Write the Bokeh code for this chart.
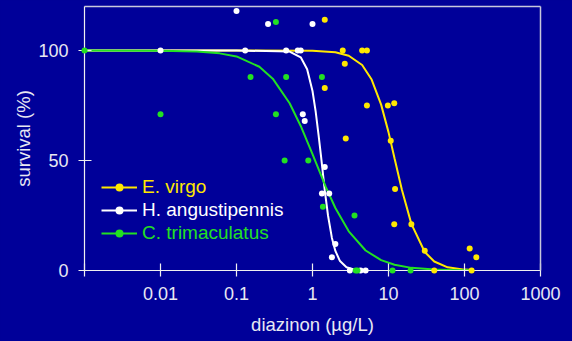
from bokeh.plotting import figure
from bokeh.models import (Range1d, FixedTicker, LinearAxis, Legend, LegendItem)
from bokeh.embed import file_html
from bokeh.resources import INLINE

# ---- observed survival (%) vs diazinon (ug/L) ----
ev_x = [1.45, 2.5, 4.5, 5.2, 2.66, 1.45, 5.2, 9.8, 11.9, 2.74, 10.7, 12.2, 11.9, 20, 30, 40, 124, 117, 143]
ev_y = [114, 100, 100, 100, 94, 83, 75, 75, 76, 60, 59, 37, 21, 21, 9, 0, 0, 10, 6]

ha_x = [0.1, 0.26, 1.0, 0.01, 0.13, 0.45, 0.64, 0.70, 0.745, 0.79, 1.45, 1.33, 1.66, 2.0, 1.8, 3.1, 4.3, 5.0]
ha_y = [118, 112, 112, 100, 100, 100, 100, 100, 71, 68, 47, 35, 35, 12, 6, 0, 0, 0]

ct_x = [0.001, 0.33, 0.153, 0.45, 1.33, 0.01, 0.33, 0.43, 0.88, 1.37, 3.57, 3.7, 3.9, 11.3, 19.5]
ct_y = [100, 113, 88, 88, 88, 71, 71, 50, 50, 29, 25, 0, 0, 0, 0]

# ---- fitted curves ----
ev_fit_x = [0.001, 0.01, 0.1, 1, 2, 3, 4.5, 6, 8, 10, 12, 15, 20, 30, 40, 60, 100, 130]
ev_fit_y = [100, 100, 100, 99.9, 99.2, 97.6, 93.4, 86.8, 75.4, 62.9, 51, 36.7, 21.2, 8.4, 4.1, 1.45, 0.4, 0.2]

ha_fit_x = [0.001, 0.01, 0.1, 0.5, 0.7, 0.85, 1.0, 1.1, 1.2, 1.3, 1.45, 1.6, 1.8, 2.0, 2.3, 2.8, 3.5, 5]
ha_fit_y = [100, 100, 100, 99.5, 96.9, 91.5, 81.6, 72.3, 61.8, 51.4, 36.4, 25, 14.8, 8.9, 4.3, 1.5, 0.45, 0.07]

ct_fit_x = [0.001, 0.01, 0.03, 0.06, 0.1, 0.2, 0.3, 0.5, 0.7, 1.0, 1.5, 2, 3, 5, 8, 12, 20, 40, 80, 130]
ct_fit_y = [100, 99.9, 99.5, 98.7, 97.3, 92.6, 87.2, 76, 65.7, 52.9, 37.9, 28.4, 17.8, 9.1, 4.7, 2.6, 1.2, 0.44, 0.16, 0.08]

series_names = ["E. virgo", "H. angustipennis", "C. trimaculatus"]
x_tick_values = [0.001, 0.01, 0.1, 1, 10, 100, 1000]
x_tick_labels = ["", "0.01", "0.1", "1", "10", "100", "1000"]
y_tick_values = [0, 50, 100]

BG = "#000099"
YEL = "#ffe800"
WHT = "#ffffff"
GRN = "#22e022"
TXT = "#e8e8f2"
FONT = "Liberation Sans"

p = figure(width=572, height=341, x_axis_type="log", output_backend="svg",
           toolbar_location=None, x_range=Range1d(0.001, 1000),
           y_range=Range1d(0, 120),
           min_border_left=84, min_border_right=32, min_border_top=6, min_border_bottom=71)
p.background_fill_color = BG
p.border_fill_color = BG
p.outline_line_color = None
p.xgrid.visible = False
p.ygrid.visible = False

xa = p.xaxis[0]
xa.ticker = FixedTicker(ticks=x_tick_values, minor_ticks=[])
xa.major_label_overrides = dict(zip(x_tick_values, x_tick_labels))
xa.axis_label = "diazinon (\u00b5g/L)"
ya = p.yaxis[0]
ya.ticker = FixedTicker(ticks=y_tick_values, minor_ticks=[])
ya.axis_label = "survival (%)"

for ax in (xa, ya):
    ax.axis_line_color = "#f0f0f0"
    ax.axis_line_width = 1.2
    ax.major_tick_line_color = "#f0f0f0"
    ax.major_tick_line_width = 1.2
    ax.major_tick_in = 7
    ax.major_tick_out = 6
    ax.minor_tick_line_color = None
    ax.major_label_text_color = TXT
    ax.major_label_text_font = FONT
    ax.major_label_text_font_size = "18px"
    ax.axis_label_text_color = TXT
    ax.axis_label_text_font = FONT
    ax.axis_label_text_font_size = "18.5px"
    ax.axis_label_text_font_style = "normal"
xa.major_label_standoff = 10
xa.axis_label_standoff = 11
ya.major_label_standoff = 10
ya.axis_label_standoff = 1

for side in ("above", "right"):
    b = LinearAxis(ticker=FixedTicker(ticks=[]), axis_line_color="#c8c8dc", axis_line_width=1.5,
                   major_tick_line_color=None, minor_tick_line_color=None)
    p.add_layout(b, side)

# curves
l_ev = p.line(ev_fit_x, ev_fit_y, line_color=YEL, line_width=2)
l_ha = p.line(ha_fit_x, ha_fit_y, line_color=WHT, line_width=2)
l_ct = p.line(ct_fit_x, ct_fit_y, line_color=GRN, line_width=2)
# points
s_ev = p.scatter(ev_x, ev_y, size=6, fill_color=YEL, line_color=None, level="overlay")
s_ha = p.scatter(ha_x, ha_y, size=6, fill_color=WHT, line_color=None, level="overlay")
s_ct = p.scatter(ct_x, ct_y, size=6, fill_color=GRN, line_color=None, level="overlay")

for i, (name, col, rl, rs) in enumerate(zip(series_names, [YEL, WHT, GRN],
                                            [l_ev, l_ha, l_ct], [s_ev, s_ha, s_ct])):
    lg = Legend(items=[LegendItem(label=name, renderers=[rl, rs])],
                location=(17, 72 - 23 * i), orientation="vertical",
                background_fill_alpha=0, border_line_alpha=0,
                padding=0, margin=0, spacing=0,
                glyph_width=36, glyph_height=20, label_height=20,
                label_standoff=5, label_text_color=col,
                label_text_font=FONT, label_text_font_size="19px")
    p.add_layout(lg, "center")

html = file_html(p, INLINE)
html = html.replace("<head>", "<head><style>html,body{margin:0;padding:0;background:#000099;}</style>", 1)
open("out.html", "w").write(html)
